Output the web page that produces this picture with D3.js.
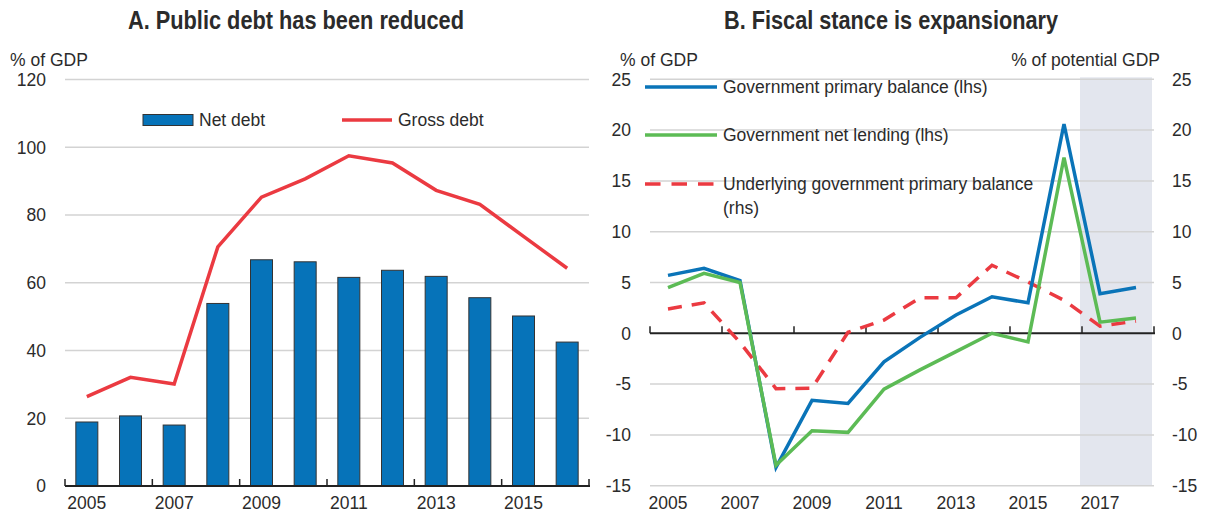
<!DOCTYPE html>
<html>
<head>
<meta charset="utf-8">
<script src="https://cdn.jsdelivr.net/npm/d3@7"></script>
<style>
  html, body { margin: 0; padding: 0; background: #ffffff; }
  svg { display: block; }
  text { font-family: "Liberation Sans", Arial, sans-serif; fill: #2b2b2b; }
</style>
</head>
<body>
<svg id="chart" width="1206" height="513"></svg>
<script>
// ---------- DATA ----------
const yearsA = [2005, 2006, 2007, 2008, 2009, 2010, 2011, 2012, 2013, 2014, 2015, 2016];
const netDebt = [18.9, 20.7, 18.0, 53.9, 66.8, 66.2, 61.6, 63.7, 61.9, 55.6, 50.2, 42.5];
const grossDebt = [26.4, 32.1, 30.1, 70.6, 85.3, 90.7, 97.5, 95.4, 87.3, 83.2, 73.7, 64.3];
const ticksA = [0, 20, 40, 60, 80, 100, 120];
const yearLabelsA = [2005, 2007, 2009, 2011, 2013, 2015];

const yearsB = [2005, 2006, 2007, 2008, 2009, 2010, 2011, 2012, 2013, 2014, 2015, 2016, 2017, 2018];
const primaryBalance = [5.7, 6.4, 5.2, -13.2, -6.6, -6.9, -2.8, -0.4, 1.8, 3.6, 3.0, 20.6, 3.9, 4.5];
const netLending = [4.5, 5.9, 5.0, -13.0, -9.6, -9.75, -5.5, -3.6, -1.8, 0.0, -0.85, 17.3, 1.1, 1.5];
const underlyingBalance = [2.4, 3.0, -0.9, -5.45, -5.4, 0.1, 1.3, 3.5, 3.5, 6.7, 5.05, 3.25, 0.7, 1.2];
const ticksB = [-15, -10, -5, 0, 5, 10, 15, 20, 25];
const yearLabelsB = [2005, 2007, 2009, 2011, 2013, 2015, 2017];
const projectionStart = 2017;

const titleA = "A. Public debt has been reduced";
const titleB = "B. Fiscal stance is expansionary";

// ---------- STYLE ----------
const BLUE = "#0673b9";
const LBLUE = "#0a74b8";
const GREEN = "#5cbb55";
const RED = "#eb3a41";
const GRID = "#d3d3d3";
const AXIS = "#222222";
const FS = 17.5;

const svg = d3.select("#chart");

// ============ PANEL A ============
const xA0 = d3.scaleBand().domain(yearsA).range([65, 589]);
const yA = d3.scaleLinear().domain([0, 120]).range([486, 79.6]);

const gA = svg.append("g");

gA.append("text").attr("x", 296).attr("y", 29).attr("text-anchor", "middle")
  .attr("font-size", 25).attr("font-weight", "bold")
  .attr("textLength", 336).attr("lengthAdjust", "spacingAndGlyphs")
  .style("font-family", "'Liberation Sans Narrow','Liberation Sans',Arial,sans-serif")
  .text(titleA);

gA.append("text").attr("x", 10).attr("y", 66).attr("font-size", FS).text("% of GDP");

// gridlines
gA.selectAll("line.grid").data(ticksA.filter(d => d > 0)).join("line")
  .attr("class", "grid")
  .attr("x1", 65).attr("x2", 589)
  .attr("y1", d => yA(d)).attr("y2", d => yA(d))
  .attr("stroke", GRID).attr("stroke-width", 1.5);

// y tick labels
gA.selectAll("text.yt").data(ticksA).join("text")
  .attr("class", "yt")
  .attr("x", 46).attr("y", d => yA(d)).attr("dy", "0.36em")
  .attr("text-anchor", "end").attr("font-size", FS)
  .text(d => d);

// bars
gA.selectAll("rect.bar").data(yearsA).join("rect")
  .attr("class", "bar")
  .attr("x", d => xA0(d) + xA0.bandwidth() / 2 - 11)
  .attr("width", 22)
  .attr("y", (d, i) => yA(netDebt[i]))
  .attr("height", (d, i) => yA(0) - yA(netDebt[i]))
  .attr("fill", BLUE).attr("stroke", "#333").attr("stroke-width", 1);

// gross debt line
const lineA = d3.line()
  .x((d, i) => xA0(yearsA[i]) + xA0.bandwidth() / 2)
  .y(d => yA(d));
gA.append("path").datum(grossDebt).attr("d", lineA)
  .attr("fill", "none").attr("stroke", RED).attr("stroke-width", 3.5)
  .attr("stroke-linejoin", "miter");

// x axis
gA.append("line").attr("x1", 65).attr("x2", 590).attr("y1", yA(0)).attr("y2", yA(0))
  .attr("stroke", AXIS).attr("stroke-width", 2);
const tickPosA = yearsA.filter((d, i) => i % 2 === 0).map(d => xA0(d)).concat([589]);
gA.selectAll("line.xt").data(tickPosA).join("line")
  .attr("class", "xt")
  .attr("x1", d => d).attr("x2", d => d)
  .attr("y1", yA(0) - 7).attr("y2", yA(0))
  .attr("stroke", AXIS).attr("stroke-width", 1.5);
gA.selectAll("text.xl").data(yearLabelsA).join("text")
  .attr("class", "xl")
  .attr("x", d => xA0(d) + xA0.bandwidth() / 2).attr("y", 509)
  .attr("text-anchor", "middle").attr("font-size", FS)
  .text(d => d);

// legend A
gA.append("rect").attr("x", 143).attr("y", 114.5).attr("width", 50).attr("height", 11)
  .attr("fill", BLUE).attr("stroke", "#333").attr("stroke-width", 1);
gA.append("text").attr("x", 199).attr("y", 126).attr("font-size", FS).text("Net debt");
gA.append("line").attr("x1", 342).attr("x2", 392).attr("y1", 120).attr("y2", 120)
  .attr("stroke", RED).attr("stroke-width", 3.5);
gA.append("text").attr("x", 398).attr("y", 126).attr("font-size", FS).text("Gross debt");

// ============ PANEL B ============
const xB = d3.scaleBand().domain(yearsB).range([650, 1154]);
const yB = d3.scaleLinear().domain([-15, 25]).range([485.7, 79.3]);
const yBr = d3.scaleLinear().domain([-15, 25]).range([485.7, 79.3]);
const cx = y => xB(y) + xB.bandwidth() / 2;

const gB = svg.append("g");

gB.append("text").attr("x", 891).attr("y", 29).attr("text-anchor", "middle")
  .attr("font-size", 25).attr("font-weight", "bold")
  .attr("textLength", 334).attr("lengthAdjust", "spacingAndGlyphs")
  .style("font-family", "'Liberation Sans Narrow','Liberation Sans',Arial,sans-serif")
  .text(titleB);

gB.append("text").attr("x", 620).attr("y", 66).attr("font-size", FS).text("% of GDP");
gB.append("text").attr("x", 1160).attr("y", 66).attr("text-anchor", "end").attr("font-size", FS).text("% of potential GDP");

// projection shade
gB.append("rect")
  .attr("x", xB(projectionStart) - 2).attr("width", xB.range()[1] - xB(projectionStart))
  .attr("y", yB(25) - 2).attr("height", yB(-15) - yB(25) + 2)
  .attr("fill", "#e3e6ee");

// gridlines
gB.selectAll("line.grid").data(ticksB.filter(d => d !== 0)).join("line")
  .attr("class", "grid")
  .attr("x1", 650).attr("x2", 1154)
  .attr("y1", d => yB(d)).attr("y2", d => yB(d))
  .attr("stroke", GRID).attr("stroke-width", 1.5);

// left labels
gB.selectAll("text.yl").data(ticksB).join("text")
  .attr("class", "yl")
  .attr("x", 631).attr("y", d => yB(d)).attr("dy", "0.36em")
  .attr("text-anchor", "end").attr("font-size", FS)
  .text(d => d);
// right labels
gB.selectAll("text.yr").data(ticksB).join("text")
  .attr("class", "yr")
  .attr("x", 1172).attr("y", d => yBr(d)).attr("dy", "0.36em")
  .attr("text-anchor", "start").attr("font-size", FS)
  .text(d => d);

// zero axis
gB.append("line").attr("x1", 650).attr("x2", 1155).attr("y1", yB(0)).attr("y2", yB(0))
  .attr("stroke", AXIS).attr("stroke-width", 2);
const tickPosB = yearsB.filter((d, i) => i % 2 === 0).map(d => xB(d)).concat([1154]);
gB.selectAll("line.xt").data(tickPosB).join("line")
  .attr("class", "xt")
  .attr("x1", d => d).attr("x2", d => d)
  .attr("y1", yB(0) - 7).attr("y2", yB(0))
  .attr("stroke", AXIS).attr("stroke-width", 1.5);
gB.selectAll("text.xl").data(yearLabelsB).join("text")
  .attr("class", "xl")
  .attr("x", d => cx(d)).attr("y", 509)
  .attr("text-anchor", "middle").attr("font-size", FS)
  .text(d => d);

// lines
const lineL = d3.line().x((d, i) => cx(yearsB[i])).y(d => yB(d));
const lineR = d3.line().x((d, i) => cx(yearsB[i])).y(d => yBr(d));

gB.append("path").datum(underlyingBalance).attr("d", lineR)
  .attr("fill", "none").attr("stroke", RED).attr("stroke-width", 3.5)
  .attr("stroke-dasharray", "14,10");
gB.append("path").datum(primaryBalance).attr("d", lineL)
  .attr("fill", "none").attr("stroke", LBLUE).attr("stroke-width", 3.5);
gB.append("path").datum(netLending).attr("d", lineL)
  .attr("fill", "none").attr("stroke", GREEN).attr("stroke-width", 3.5);

// legend B
const legB = [
  { label: ["Government primary balance (lhs)"], color: LBLUE, dash: null, y: 87 },
  { label: ["Government net lending (lhs)"], color: GREEN, dash: null, y: 135 },
  { label: ["Underlying government primary balance", "(rhs)"], color: RED, dash: "15.5,11", y: 184 }
];
legB.forEach(l => {
  gB.append("line").attr("x1", 645).attr("x2", 717).attr("y1", l.y).attr("y2", l.y)
    .attr("stroke", l.color).attr("stroke-width", 3.5)
    .attr("stroke-dasharray", l.dash);
  l.label.forEach((t, k) => {
    gB.append("text").attr("x", 723).attr("y", l.y + 6 + k * 24)
      .attr("font-size", FS).text(t);
  });
});
</script>
</body>
</html>
